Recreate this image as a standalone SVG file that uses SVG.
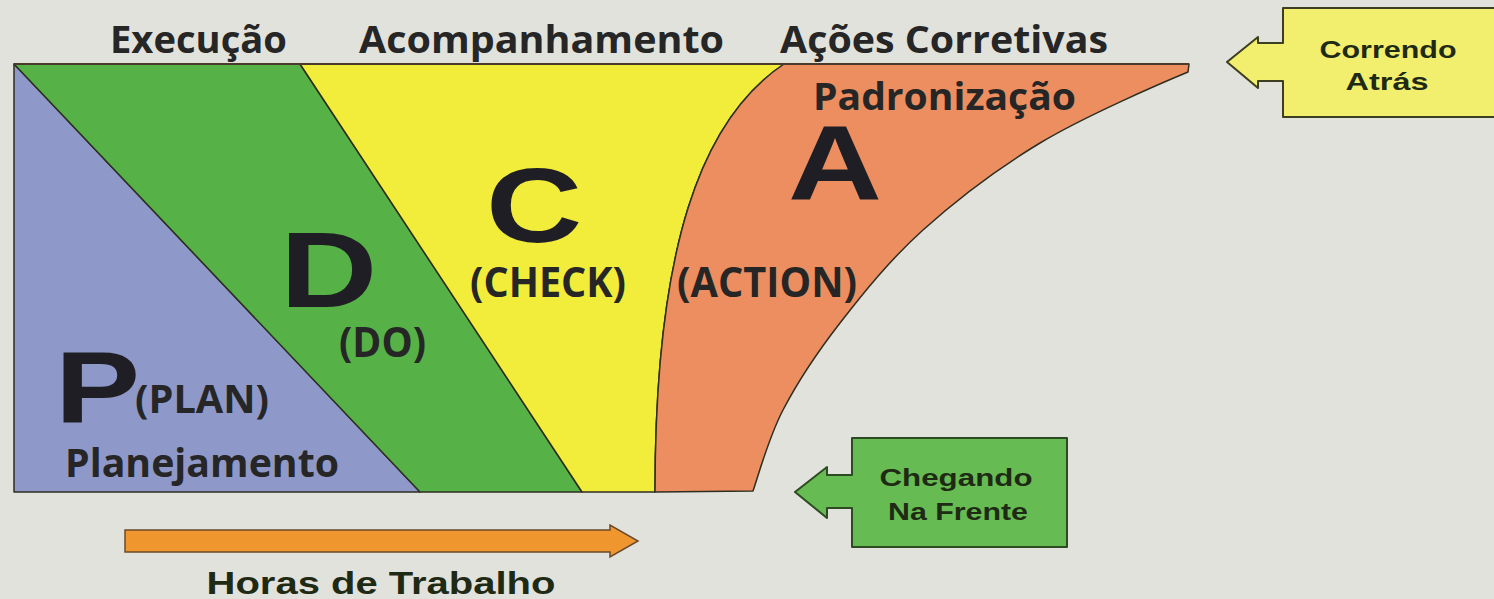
<svg xmlns="http://www.w3.org/2000/svg" width="1494" height="599" viewBox="0 0 1494 599">
<style>
.lbl{font-family:"Open Sans","Liberation Sans",sans-serif;font-weight:700;fill:#262626;}
.big{font-family:"Liberation Sans",Arial,sans-serif;font-weight:700;fill:#1e1e24;}
.box{font-family:"Liberation Sans",Arial,sans-serif;font-weight:700;fill:#1f2a14;text-anchor:middle;}
.edge{stroke:#2e2e22;stroke-width:1.5;stroke-linejoin:round;}
</style>
<rect x="0" y="0" width="1494" height="599" fill="#e2e2dd"/>
<g id="plan">
<path class="edge" d="M14,64 L14,492 L420,492 Z" fill="#8f99c9"/>
</g>
<g id="do">
<path class="edge" d="M14,64 L300,64 L582,492 L420,492 Z" fill="#56b146"/>
</g>
<g id="check">
<path class="edge" d="M300,64 L784,64 C700,120 655,250 655,492 L582,492 Z" fill="#f2ec3a"/>
</g>
<g id="action">
<path class="edge" d="M655,492 L753,491 C758,476.7 768.5,437.8 783,410 C797.5,382.2 816.7,353 840,323 C863.3,293 889.7,260 923,230 C956.3,200 995.8,169.7 1040,143 C1084.2,116.3 1163.3,82.2 1188,72 L1189,64 L784,64 C700,120 655,250 655,492 Z" fill="#ec8e60"/>
</g>
<g id="connectors">
<line x1="14" y1="64" x2="1189" y2="64" stroke="#4a3a2a" stroke-width="2"/>
<path id="horas-arrow" d="M125,530 L610,530 L610,525 L638,541 L610,557 L610,552 L125,552 Z" fill="#f0962f" stroke="#6b4a2a" stroke-width="1.5"/>
</g>
<g id="top-labels">
<text class="lbl" x="110" y="53" font-size="38" textLength="177" lengthAdjust="spacingAndGlyphs">Execução</text>
<text class="lbl" x="359" y="53" font-size="38" textLength="365" lengthAdjust="spacingAndGlyphs">Acompanhamento</text>
<text class="lbl" x="780" y="53" font-size="38" textLength="328" lengthAdjust="spacingAndGlyphs">Ações Corretivas</text>
</g>
<g id="plan-labels">
<text class="big" transform="translate(55,423) scale(1.25,1)" font-size="102">P</text>
<text class="lbl" x="135" y="413" font-size="39" textLength="134" lengthAdjust="spacingAndGlyphs">(PLAN)</text>
<text class="lbl" x="65" y="477" font-size="40" textLength="274" lengthAdjust="spacingAndGlyphs">Planejamento</text>
</g>
<g id="do-labels">
<text class="big" transform="translate(280,307) scale(1.26,1)" font-size="107">D</text>
<text class="lbl" x="339" y="357" font-size="41" textLength="87" lengthAdjust="spacingAndGlyphs">(DO)</text>
</g>
<g id="check-labels">
<text class="big" transform="translate(486,242) scale(1.27,1)" font-size="105">C</text>
<text class="lbl" x="470" y="297" font-size="41" textLength="156" lengthAdjust="spacingAndGlyphs">(CHECK)</text>
</g>
<g id="action-labels">
<text class="big" transform="translate(788,200) scale(1.24,1)" font-size="105">A</text>
<text class="lbl" x="677" y="297" font-size="41" textLength="180" lengthAdjust="spacingAndGlyphs">(ACTION)</text>
<text class="lbl" x="813" y="110" font-size="38" textLength="263" lengthAdjust="spacingAndGlyphs">Padronização</text>
</g>
<g id="correndo">
<path d="M1500,8 L1283,8 L1283,43 L1258,43 L1258,37 L1227,62 L1258,88 L1258,81 L1283,81 L1283,117 L1500,117" fill="#f2ef6e" stroke="#3d3d20" stroke-width="2" stroke-linejoin="round"/>
<text class="box" x="1388" y="58" font-size="24" textLength="137" lengthAdjust="spacingAndGlyphs">Correndo</text>
<text class="box" x="1387" y="90" font-size="24" textLength="83" lengthAdjust="spacingAndGlyphs">Atrás</text>
</g>
<g id="chegando">
<path d="M852,438 L1067,438 L1067,547 L852,547 L852,508 L827,508 L827,518 L795,492 L827,467 L827,475 L852,475 Z" fill="#66bc52" stroke="#2e4a22" stroke-width="2" stroke-linejoin="round"/>
<text class="box" x="956" y="486" font-size="24" textLength="153" lengthAdjust="spacingAndGlyphs">Chegando</text>
<text class="box" x="958" y="520" font-size="24" textLength="140" lengthAdjust="spacingAndGlyphs">Na Frente</text>
</g>
<g id="horas">
<text class="box" x="381" y="594" font-size="31" textLength="349" lengthAdjust="spacingAndGlyphs" fill="#1e1e1e">Horas de Trabalho</text>
</g>
</svg>
